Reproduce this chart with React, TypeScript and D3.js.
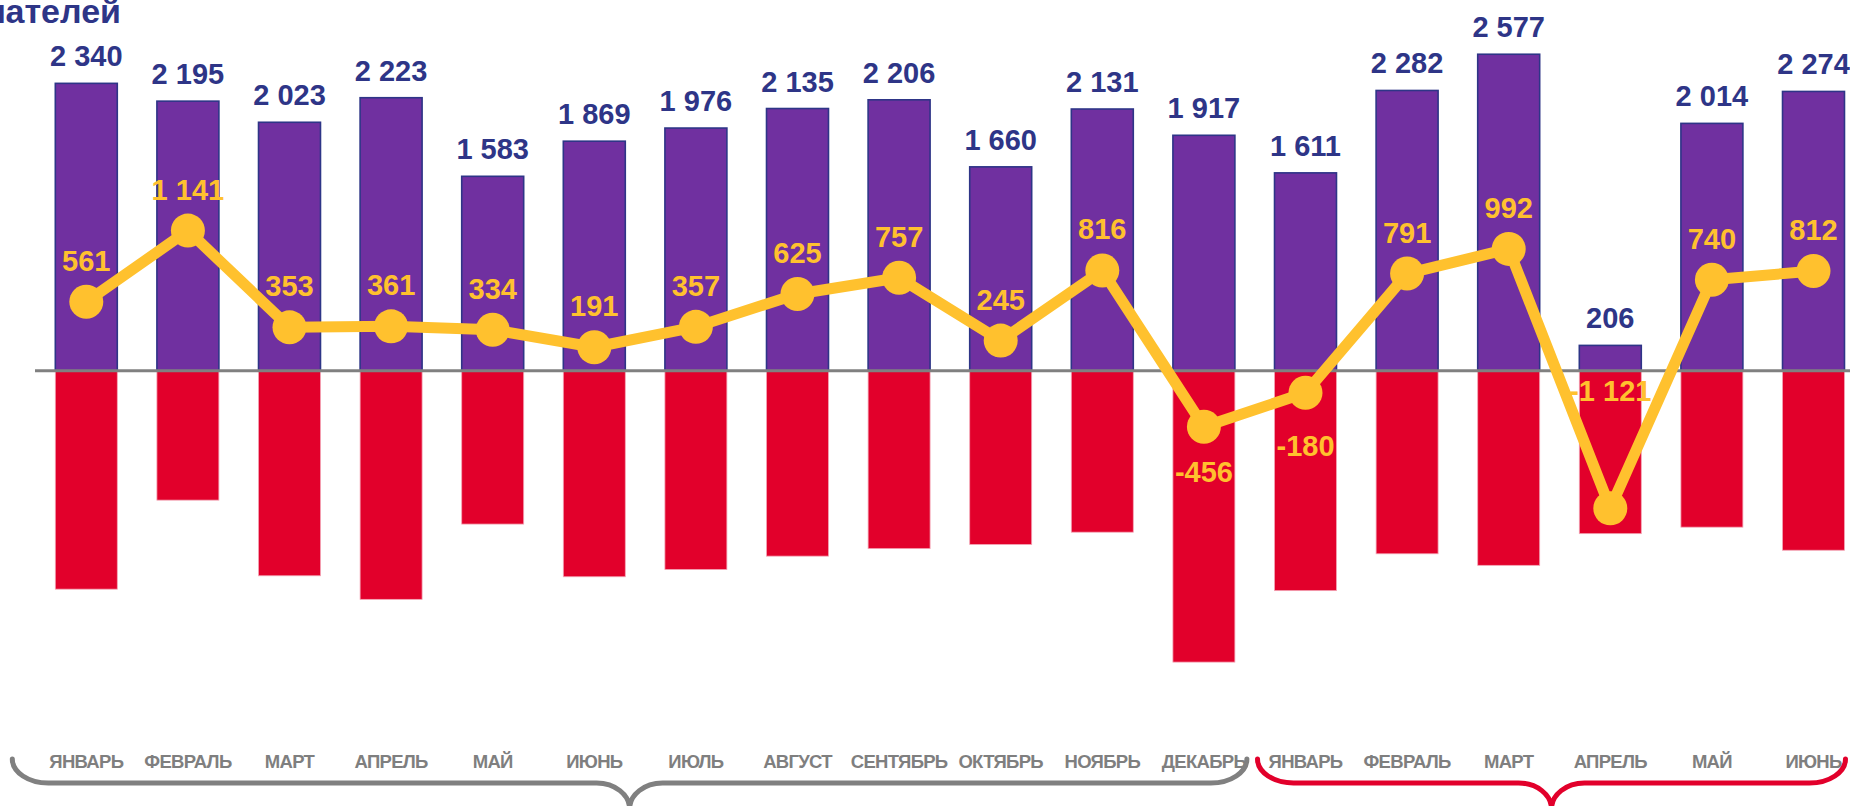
import React from "react";
import * as d3 from "d3";

// ---------- data ----------
const months = [
  "ЯНВАРЬ", "ФЕВРАЛЬ", "МАРТ", "АПРЕЛЬ", "МАЙ", "ИЮНЬ",
  "ИЮЛЬ", "АВГУСТ", "СЕНТЯБРЬ", "ОКТЯБРЬ", "НОЯБРЬ", "ДЕКАБРЬ",
  "ЯНВАРЬ", "ФЕВРАЛЬ", "МАРТ", "АПРЕЛЬ", "МАЙ", "ИЮНЬ",
];
const opened = [2340, 2195, 2023, 2223, 1583, 1869, 1976, 2135, 2206, 1660, 2131, 1917, 1611, 2282, 2577, 206, 2014, 2274];
const closed = [-1779, -1054, -1670, -1862, -1249, -1678, -1619, -1510, -1449, -1415, -1315, -2373, -1791, -1491, -1585, -1327, -1274, -1462];
const net = [561, 1141, 353, 361, 334, 191, 357, 625, 757, 245, 816, -456, -180, 791, 992, -1121, 740, 812];
const yearGroups = [
  { first: 0, last: 11 },
  { first: 12, last: 17 },
];
const titleText = "Количество индивидуальных предпринимателей";

// ---------- layout / style ----------
const W = 1850;
const H = 806;
const FONT = "'Liberation Sans', Arial, Helvetica, sans-serif";
const PURPLE = "#7030A0";
const NAVY = "#2E3587";
const RED = "#E2002B";
const YELLOW = "#FFC12E";
const GREY = "#7F7F7F";
const braceColors = ["#808080", "#E2002B"];
const netLabelDy = [-31, -31, -31, -31, -31, -31, -31, -31, -31, -31, -31, 55, 63, -31, -31, -107, -31, -31];

const locale = d3.formatLocale({
  decimal: ",",
  thousands: " ",
  grouping: [3],
  currency: ["", ""],
  minus: "-",
});
const fmt = locale.format(",d");

export default function App() {
  const idx = months.map((_, i) => i);
  const x = d3
    .scaleBand<number>()
    .domain(idx)
    .range([35.5, 35.5 + 18 * 101.6])
    .paddingInner(0.39)
    .paddingOuter(0.195);
  const y = d3.scaleLinear().domain([-2500, 2500]).range([370.7 + 307, 370.7 - 307]);
  const bw = x.bandwidth();
  const cx = (i: number) => (x(i) as number) + bw / 2;

  const line = d3
    .line<number>()
    .x((_, i) => cx(i))
    .y((d) => y(d));

  const braceTop = 759;
  const braceMid = 783;
  const braceTip = 809;
  const brace = (x0: number, x1: number) => {
    const xm = (x0 + x1) / 2;
    const rx = 36;
    const tx = 33;
    return (
      `M${x0},${braceTop} A${rx} ${braceMid - braceTop} 0 0 0 ${x0 + rx},${braceMid}` +
      ` L${xm - tx},${braceMid} A${tx} ${braceTip - braceMid} 0 0 1 ${xm},${braceTip}` +
      ` A${tx} ${braceTip - braceMid} 0 0 1 ${xm + tx},${braceMid}` +
      ` L${x1 - rx},${braceMid} A${rx} ${braceMid - braceTop} 0 0 0 ${x1},${braceTop}`
    );
  };
  const braceBounds = [
    (g: { first: number; last: number }) => [(x(g.first) as number) - 43, (x(g.last) as number) + bw + 12],
    (g: { first: number; last: number }) => [(x(g.first) as number) - 17, (x(g.last) as number) + bw + 1],
  ];

  return (
    <svg
      width={W}
      height={H}
      viewBox={`0 0 ${W} ${H}`}
      style={{ position: "absolute", left: 0, top: 0, display: "block", background: "#fff" }}
      fontFamily={FONT}
    >
      <rect x={0} y={0} width={W} height={H} fill="#fff" />

      {/* title (cut off at left, as in the reference) */}
      <text x={121} y={23} textAnchor="end" fontSize={34} fontWeight="bold" fill={NAVY}>
        {titleText}
      </text>

      {/* red (negative) bars */}
      {closed.map((v, i) => (
        <rect
          key={"c" + i}
          x={x(i)}
          y={y(0)}
          width={bw}
          height={y(v) - y(0)}
          fill={RED}
          stroke="#F3A5B5"
          strokeWidth={0.8}
        />
      ))}

      {/* purple (positive) bars */}
      {opened.map((v, i) => (
        <rect
          key={"o" + i}
          x={x(i)}
          y={y(v)}
          width={bw}
          height={y(0) - y(v)}
          fill={PURPLE}
          stroke={NAVY}
          strokeWidth={1.6}
        />
      ))}

      {/* zero line */}
      <line x1={35} x2={W} y1={y(0)} y2={y(0)} stroke="#808080" strokeWidth={3} />

      {/* net line */}
      <path d={line(net) || ""} fill="none" stroke={YELLOW} strokeWidth={11} strokeLinejoin="round" />
      {net.map((v, i) => (
        <circle key={"p" + i} cx={cx(i)} cy={y(v)} r={17} fill={YELLOW} />
      ))}

      {/* opened value labels */}
      {opened.map((v, i) => (
        <text
          key={"ol" + i}
          x={cx(i)}
          y={y(v) - 17}
          textAnchor="middle"
          fontSize={29}
          fontWeight="bold"
          fill={NAVY}
        >
          {fmt(v)}
        </text>
      ))}

      {/* net value labels */}
      {net.map((v, i) => (
        <text
          key={"nl" + i}
          x={cx(i)}
          y={y(v) + netLabelDy[i]}
          textAnchor="middle"
          fontSize={29}
          fontWeight="bold"
          fill={YELLOW}
        >
          {fmt(v)}
        </text>
      ))}

      {/* month labels */}
      {months.map((m, i) => (
        <text
          key={"m" + i}
          x={cx(i)}
          y={768}
          textAnchor="middle"
          fontSize={18.5}
          fontWeight="bold"
          letterSpacing={-0.7}
          fill={GREY}
        >
          {m}
        </text>
      ))}

      {/* year braces */}
      {yearGroups.map((g, gi) => {
        const [b0, b1] = braceBounds[gi](g);
        return (
          <path
            key={"b" + gi}
            d={brace(b0, b1)}
            fill="none"
            stroke={braceColors[gi]}
            strokeWidth={5}
            strokeLinecap="round"
          />
        );
      })}
    </svg>
  );
}
